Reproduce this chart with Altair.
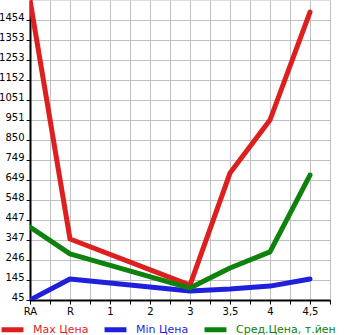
import altair as alt
import pandas as pd

categories = ["RA", "R", "1", "2", "3", "3,5", "4", "4,5"]
series_names = ["Max Цена", "Min Цена", "Сред.Цена, т.йен"]
series_colors = ["#dd1f1f", "#1f1fdd", "#0d820d"]

# values per category (None = no data)
max_vals = [1555, 352, None, None, 120, 684, 951, 1494]
min_vals = [45, 151, None, None, 90, 100, 115, 151]
avg_vals = [412, 277, None, None, 105, 206, 287, 674]

y_min, y_max = 45, 1555
y_ticks = [y_min + k * (y_max - y_min) / 15 for k in range(15)]

rows = []
for name, vals in zip(series_names, [max_vals, min_vals, avg_vals]):
    for i, v in enumerate(vals):
        if v is not None:
            rows.append({"idx": i, "value": v, "series": name})
df = pd.DataFrame(rows)

label_expr = "datum.value % 1 == 0 ? " + str(categories) + "[datum.value] : ''"
color_expr = "datum.value == '%s' ? '%s' : datum.value == '%s' ? '%s' : '%s'" % (
    series_names[0], series_colors[0], series_names[1], series_colors[1], series_colors[2])

chart = alt.Chart(df).mark_line(strokeWidth=5, strokeCap="round", strokeJoin="round", clip=True).encode(
    x=alt.X("idx:Q", scale=alt.Scale(domain=[0, 7.5], nice=False, zero=False),
            axis=alt.Axis(title=None, values=[i * 0.5 for i in range(16)], labelExpr=label_expr,
                          grid=True, gridColor="#c0c0c0", gridWidth=1,
                          domainColor="#000000", domainWidth=2, tickColor="#000000", tickSize=4,
                          labelFont="DejaVu Sans", labelFontSize=10, labelColor="#000000",
                          labelPadding=2, labelFlush=False)),
    y=alt.Y("value:Q", scale=alt.Scale(domain=[y_min, y_max], nice=False, zero=False),
            axis=alt.Axis(title=None, values=y_ticks, labelExpr="floor(datum.value)",
                          grid=True, gridColor="#c0c0c0", gridWidth=1,
                          domainColor="#000000", domainWidth=2, tickColor="#000000", tickSize=4,
                          labelFont="DejaVu Sans", labelFontSize=10, labelColor="#000000",
                          labelPadding=2, labelOffset=-3, labelFlush=False)),
    color=alt.Color("series:N", scale=alt.Scale(domain=series_names, range=series_colors),
                    legend=alt.Legend(title=None, orient="none", legendX=-31, legendY=316,
                                      direction="horizontal", symbolType="stroke",
                                      symbolStrokeWidth=5, symbolSize=480,
                                      labelFont="DejaVu Sans", labelFontSize=11,
                                      labelOffset=7, columnPadding=5, padding=0,
                                      labelColor={"expr": color_expr})),
    detail="series:N",
).properties(width=300, height=300)

chart = chart.configure_view(fill="#f6f6f6", stroke="#c0c0c0", strokeWidth=1).configure(
    background="#ffffff", autosize=alt.AutoSizeParams(type="none"),
    padding={"left": 30, "top": 0, "right": 15, "bottom": 35})

chart.save("out.html", embed_options={"renderer": "svg", "actions": False})
